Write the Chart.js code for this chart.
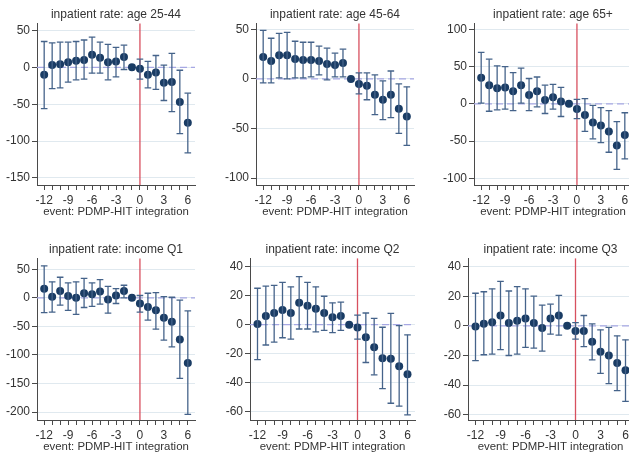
<!DOCTYPE html>
<html><head><meta charset="utf-8">
<script src="https://cdn.jsdelivr.net/npm/chart.js@4.4.0/dist/chart.umd.min.js"></script>
<style>
html,body{margin:0;padding:0;background:#fff;width:629px;height:452px;overflow:hidden;position:relative}
.p{position:absolute}
canvas{display:block}
</style></head><body>
<div class="p" style="left:0px;top:0px"><canvas id="c1" width="205" height="225"></canvas></div>
<div class="p" style="left:219px;top:0px"><canvas id="c2" width="205" height="225"></canvas></div>
<div class="p" style="left:437px;top:0px"><canvas id="c3" width="205" height="225"></canvas></div>
<div class="p" style="left:0px;top:235px"><canvas id="c4" width="205" height="225"></canvas></div>
<div class="p" style="left:213px;top:235px"><canvas id="c5" width="212" height="225"></canvas></div>
<div class="p" style="left:431px;top:235px"><canvas id="c6" width="212" height="225"></canvas></div>
<script>
// ---------- data ----------
const periods = [-12,-11,-10,-9,-8,-7,-6,-5,-4,-3,-2,-1,0,1,2,3,4,5,6];
const xLabelTicks = [-12,-9,-6,-3,0,3,6];
const xAxisTitle = 'event: PDMP-HIT integration';

const titleAge2544 = 'inpatient rate: age 25-44';
const estAge2544 = [-10,3,4,7,9,10,17,13,7,8,14,0,-2,-10,-7,-21,-20,-47,-75];
const loAge2544  = [-56,-29,-28,-20,-17,-16,-8,-8,-17,-13,-3,null,-16,-28,-30,-45,-60,-90,-116];
const hiAge2544  = [35,33,34,34,35,37,41,34,31,27,30,null,11,8,16,3,19,-4,-35];
const yTicksAge2544 = [50,0,-50,-100,-150];

const titleAge4564 = 'inpatient rate: age 45-64';
const estAge4564 = [22,18,24,24,20,19,19,18,15,14,16,0,-5,-7,-16,-21,-16,-30,-38];
const loAge4564  = [-4,-4,1,0,1,1,2,4,-1,2,2,null,-15,-21,-36,-41,-39,-55,-67];
const hiAge4564  = [49,41,46,47,38,37,37,33,31,26,30,null,6,6,4,-2,8,-5,-8];
const yTicksAge4564 = [50,0,-50,-100];

const titleAge65 = 'inpatient rate: age 65+';
const estAge65 = [35,25,21,22,17,25,12,17,5,9,3,0,-7,-15,-25,-29,-37,-56,-42];
const loAge65  = [1,-10,-8,-7,-9,1,-9,-4,-13,-7,-17,null,-20,-37,-47,-52,-65,-88,-74];
const hiAge65  = [69,60,51,50,42,48,34,36,25,26,22,null,6,7,-2,-5,-9,-24,-12];
const yTicksAge65 = [100,50,0,-50,-100];

const titleQ1 = 'inpatient rate: income Q1';
const estQ1 = [16,2,12,3,0,8,6,11,-3,4,12,0,-10,-16,-22,-35,-42,-73,-114];
const loQ1  = [-26,-25,-13,-22,-29,-17,-15,-11,-27,-10,0,null,-25,-39,-55,-74,-86,-141,-204];
const hiQ1  = [56,28,36,26,28,34,26,32,20,16,22,null,4,8,9,2,1,-4,-23];
const yTicksQ1 = [50,0,-50,-100,-150,-200];

const titleQ2 = 'inpatient rate: income Q2';
const estQ2 = [0.5,6,8,10,8,15,13,11,8,5,6,0,-2,-8.7,-15.5,-23,-23.5,-28.6,-34];
const loQ2  = [-24,-14,-12,-9,-10,-3,-3,-5,-4,-5.5,-4,null,-10,-26,-34.5,-44,-54,-56,-62];
const hiQ2  = [25,26.5,27,29,26,33,29,26,19.5,15,15.5,null,6.6,8,4.3,-1.8,7.8,-0.7,-7];
const yTicksQ2 = [40,20,0,-20,-40,-60];

const titleQ3 = 'inpatient rate: income Q3';
const estQ3 = [-0.5,1.5,2.5,7,2,3.5,5,2,-1.5,5,7,0,-3.4,-3.4,-10.8,-17.5,-20,-25,-30];
const loQ3  = [-23.5,-19.5,-19,-16,-20,-19,-14.5,-15,-17,-5.6,-6.3,null,-9,-14,-23,-32,-39,-43.7,-51];
const hiQ3  = [22,23,25,30,23.5,26.5,25,20,14,14.6,20.6,null,2.2,7,1.3,-2.7,-1,-6.7,-9.4];
const yTicksQ3 = [40,20,0,-20,-40,-60];

// ---------- styles ----------
const FONT = "'Liberation Sans', Arial, sans-serif";
const markerColor = '#1a3c64';
const whiskerColor = '#45638a';
const refXColor = '#d8505f';
const refYColor = '#a7a8e4';
const gridColor = '#e0e9ef';
const axisColor = '#4a4a4a';
const textColor = '#333333';

const refLines = {
  id: 'refLines',
  beforeDatasetsDraw(chart) {
    const {ctx, chartArea: a, scales: {x, y}} = chart;
    ctx.save();
    const y0 = y.getPixelForValue(0);
    ctx.strokeStyle = refYColor; ctx.lineWidth = 1.3; ctx.setLineDash([7,4]);
    ctx.beginPath(); ctx.moveTo(a.left, y0); ctx.lineTo(a.right, y0); ctx.stroke();
    const x0 = x.getPixelForValue(0);
    ctx.setLineDash([]); ctx.strokeStyle = refXColor; ctx.lineWidth = 1.3;
    ctx.beginPath(); ctx.moveTo(x0, a.top); ctx.lineTo(x0, a.bottom); ctx.stroke();
    ctx.restore();
  }
};

function makeChart(id, title, est, lo, hi, yTicks, yMin, yMax) {
  const whisk = [];
  const caps = [];
  periods.forEach((p, i) => {
    if (lo[i] !== null && hi[i] !== null) {
      whisk.push({x: p, y: lo[i]}, {x: p, y: hi[i]}, {x: p, y: null});
      caps.push({x: p, y: lo[i]}, {x: p, y: hi[i]});
    }
  });
  const pts = periods.map((p, i) => ({x: p, y: est[i]}));
  new Chart(document.getElementById(id), {
    type: 'scatter',
    data: { datasets: [
      { type: 'line', data: whisk, showLine: true, spanGaps: false, borderColor: whiskerColor,
        borderWidth: 1.3, pointRadius: 0, fill: false },
      { data: caps, pointStyle: 'line', radius: 3.3, borderColor: whiskerColor, borderWidth: 1.3,
        backgroundColor: whiskerColor },
      { data: pts, pointStyle: 'circle', radius: 4, backgroundColor: markerColor, borderColor: markerColor,
        borderWidth: 0 }
    ]},
    options: {
      responsive: false, animation: false, devicePixelRatio: 1,
      layout: { padding: { left: 0, right: 10, top: 0, bottom: 0 } },
      plugins: {
        legend: { display: false }, tooltip: { enabled: false },
        title: { display: true, fullSize: false, text: title, color: textColor,
          font: { family: FONT, size: 12, weight: 'normal' }, padding: { top: 7, bottom: 2 } }
      },
      scales: {
        x: {
          type: 'linear', min: -12.9, max: 6.9,
          afterBuildTicks: s => { s.ticks = periods.map(v => ({value: v})); },
          afterFit: s => { s.height = 40; },
          ticks: { autoSkip: false, maxRotation: 0, padding: 3, color: textColor,
            font: { family: FONT, size: 12 },
            callback: v => xLabelTicks.includes(v) ? String(v) : '' },
          grid: { drawOnChartArea: false, tickLength: 5, tickColor: axisColor, tickWidth: 1 },
          border: { color: axisColor, width: 1 },
          title: { display: true, text: xAxisTitle, color: textColor,
            font: { family: FONT, size: 11.4 }, padding: { top: 0, bottom: 6.5 } }
        },
        y: {
          type: 'linear', min: yMin, max: yMax,
          afterBuildTicks: s => { s.ticks = yTicks.map(v => ({value: v})); },
          afterFit: s => { s.width = 37; },
          ticks: { padding: 2, color: textColor, font: { family: FONT, size: 12 } },
          grid: { color: gridColor, lineWidth: 1, tickLength: 5, tickColor: axisColor },
          border: { color: axisColor, width: 1 }
        }
      }
    },
    plugins: [refLines]
  });
}

makeChart('c1', titleAge2544, estAge2544, loAge2544, hiAge2544, yTicksAge2544, -159.5, 59.5);
makeChart('c2', titleAge4564, estAge4564, loAge4564, hiAge4564, yTicksAge4564, -107, 56);
makeChart('c3', titleAge65, estAge65, loAge65, hiAge65, yTicksAge65, -109, 108);
makeChart('c4', titleQ1, estQ1, loQ1, hiQ1, yTicksQ1, -214, 69);
makeChart('c5', titleQ2, estQ2, loQ2, hiQ2, yTicksQ2, -65.5, 45.5);
makeChart('c6', titleQ3, estQ3, loQ3, hiQ3, yTicksQ3, -63.5, 45.5);
</script>
</body></html>
